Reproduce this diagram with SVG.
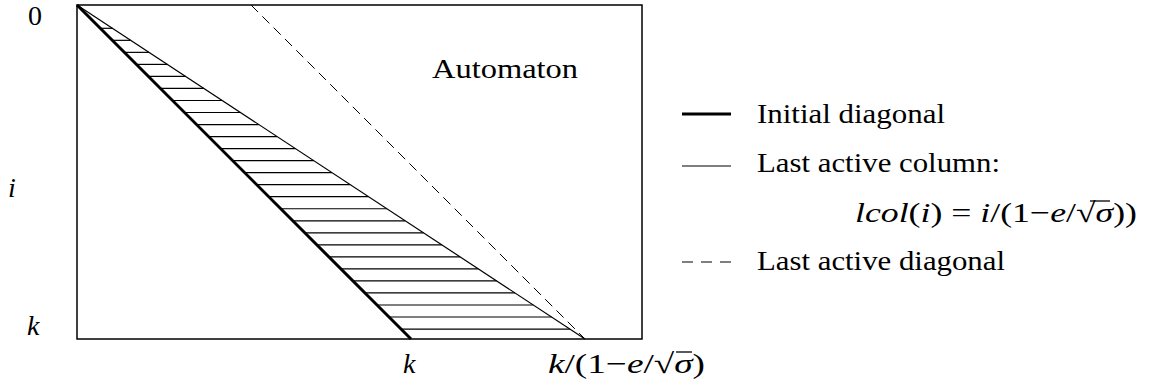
<svg xmlns="http://www.w3.org/2000/svg" width="1151" height="388" viewBox="0 0 1151 388">
<style>
.t{font-family:"Liberation Serif","Times New Roman",serif;font-size:28px;fill:#000}
.m{font-style:italic}
.n{font-style:normal}
.ln{stroke:#000;fill:none}
</style>
<rect width="1151" height="388" fill="#fff"/>
<g id="frame">
<rect x="77" y="5" width="565" height="334" class="ln" stroke-width="1.5"/>
</g>
<g id="connectors">
<g id="hatching" class="ln" stroke-width="1.2">
<line x1="100.3" y1="28.3" x2="112.4" y2="28.3"/>
<line x1="112.3" y1="40.33" x2="130.7" y2="40.33"/>
<line x1="124.4" y1="52.36" x2="149.0" y2="52.36"/>
<line x1="136.4" y1="64.39" x2="167.3" y2="64.39"/>
<line x1="148.4" y1="76.42" x2="185.6" y2="76.42"/>
<line x1="160.5" y1="88.45" x2="203.9" y2="88.45"/>
<line x1="172.5" y1="100.48" x2="222.2" y2="100.48"/>
<line x1="184.5" y1="112.51" x2="240.5" y2="112.51"/>
<line x1="196.5" y1="124.54" x2="258.8" y2="124.54"/>
<line x1="208.6" y1="136.57" x2="277.1" y2="136.57"/>
<line x1="220.6" y1="148.6" x2="295.4" y2="148.6"/>
<line x1="232.6" y1="160.63" x2="313.7" y2="160.63"/>
<line x1="244.7" y1="172.66" x2="332.0" y2="172.66"/>
<line x1="256.7" y1="184.69" x2="350.3" y2="184.69"/>
<line x1="268.7" y1="196.72" x2="368.6" y2="196.72"/>
<line x1="280.8" y1="208.75" x2="386.9" y2="208.75"/>
<line x1="292.8" y1="220.78" x2="405.2" y2="220.78"/>
<line x1="304.8" y1="232.81" x2="423.5" y2="232.81"/>
<line x1="316.8" y1="244.84" x2="441.8" y2="244.84"/>
<line x1="328.9" y1="256.87" x2="460.1" y2="256.87"/>
<line x1="340.9" y1="268.9" x2="478.4" y2="268.9"/>
<line x1="352.9" y1="280.93" x2="496.7" y2="280.93"/>
<line x1="365.0" y1="292.96" x2="515.0" y2="292.96"/>
<line x1="377.0" y1="304.99" x2="533.3" y2="304.99"/>
<line x1="389.0" y1="317.02" x2="551.6" y2="317.02"/>
<line x1="401.1" y1="329.05" x2="569.9" y2="329.05"/>
</g>
<line id="initial-diagonal" x1="77" y1="5" x2="411" y2="339" class="ln" stroke-width="3"/>
<line id="last-active-column" x1="77" y1="5" x2="585" y2="339" class="ln" stroke-width="1.2"/>
<line id="last-active-diagonal" x1="251" y1="5" x2="585" y2="339" class="ln" stroke-width="1" stroke-dasharray="10 6"/>
</g>
<g id="axis-labels">
<text class="t" x="28" y="25">0</text>
<text class="t m" x="8" y="197">i</text>
<text class="t m" x="27" y="335">k</text>
<text class="t m" x="403" y="373">k</text>
<text class="t" x="548" y="373" textLength="157" lengthAdjust="spacingAndGlyphs"><tspan class="m">k</tspan>/(1−<tspan class="m">e</tspan>/√<tspan class="m">σ</tspan>)</text>
<line x1="676" y1="352" x2="692" y2="352" class="ln" stroke-width="1.3"/>
</g>
<g id="automaton">
<text class="t" x="432" y="78" textLength="146" lengthAdjust="spacingAndGlyphs">Automaton</text>
</g>
<g id="legend">
<line x1="682" y1="114" x2="731" y2="114" class="ln" stroke-width="3"/>
<text class="t" x="757" y="123" textLength="188" lengthAdjust="spacingAndGlyphs">Initial diagonal</text>
<line x1="682" y1="166" x2="731" y2="166" class="ln" stroke-width="1.2"/>
<text class="t" x="757" y="172" textLength="243" lengthAdjust="spacingAndGlyphs">Last active column:</text>
<text class="t" x="855" y="222" textLength="282" lengthAdjust="spacingAndGlyphs"><tspan class="m">lcol</tspan>(<tspan class="m">i</tspan>) = <tspan class="m">i</tspan>/(1−<tspan class="m">e</tspan>/√<tspan class="m">σ</tspan>))</text>
<line x1="1090" y1="201" x2="1110" y2="201" class="ln" stroke-width="1.3"/>
<line x1="682" y1="262" x2="732" y2="262" class="ln" stroke-width="1" stroke-dasharray="11 8"/>
<text class="t" x="757" y="270" textLength="248" lengthAdjust="spacingAndGlyphs">Last active diagonal</text>
</g>
</svg>
